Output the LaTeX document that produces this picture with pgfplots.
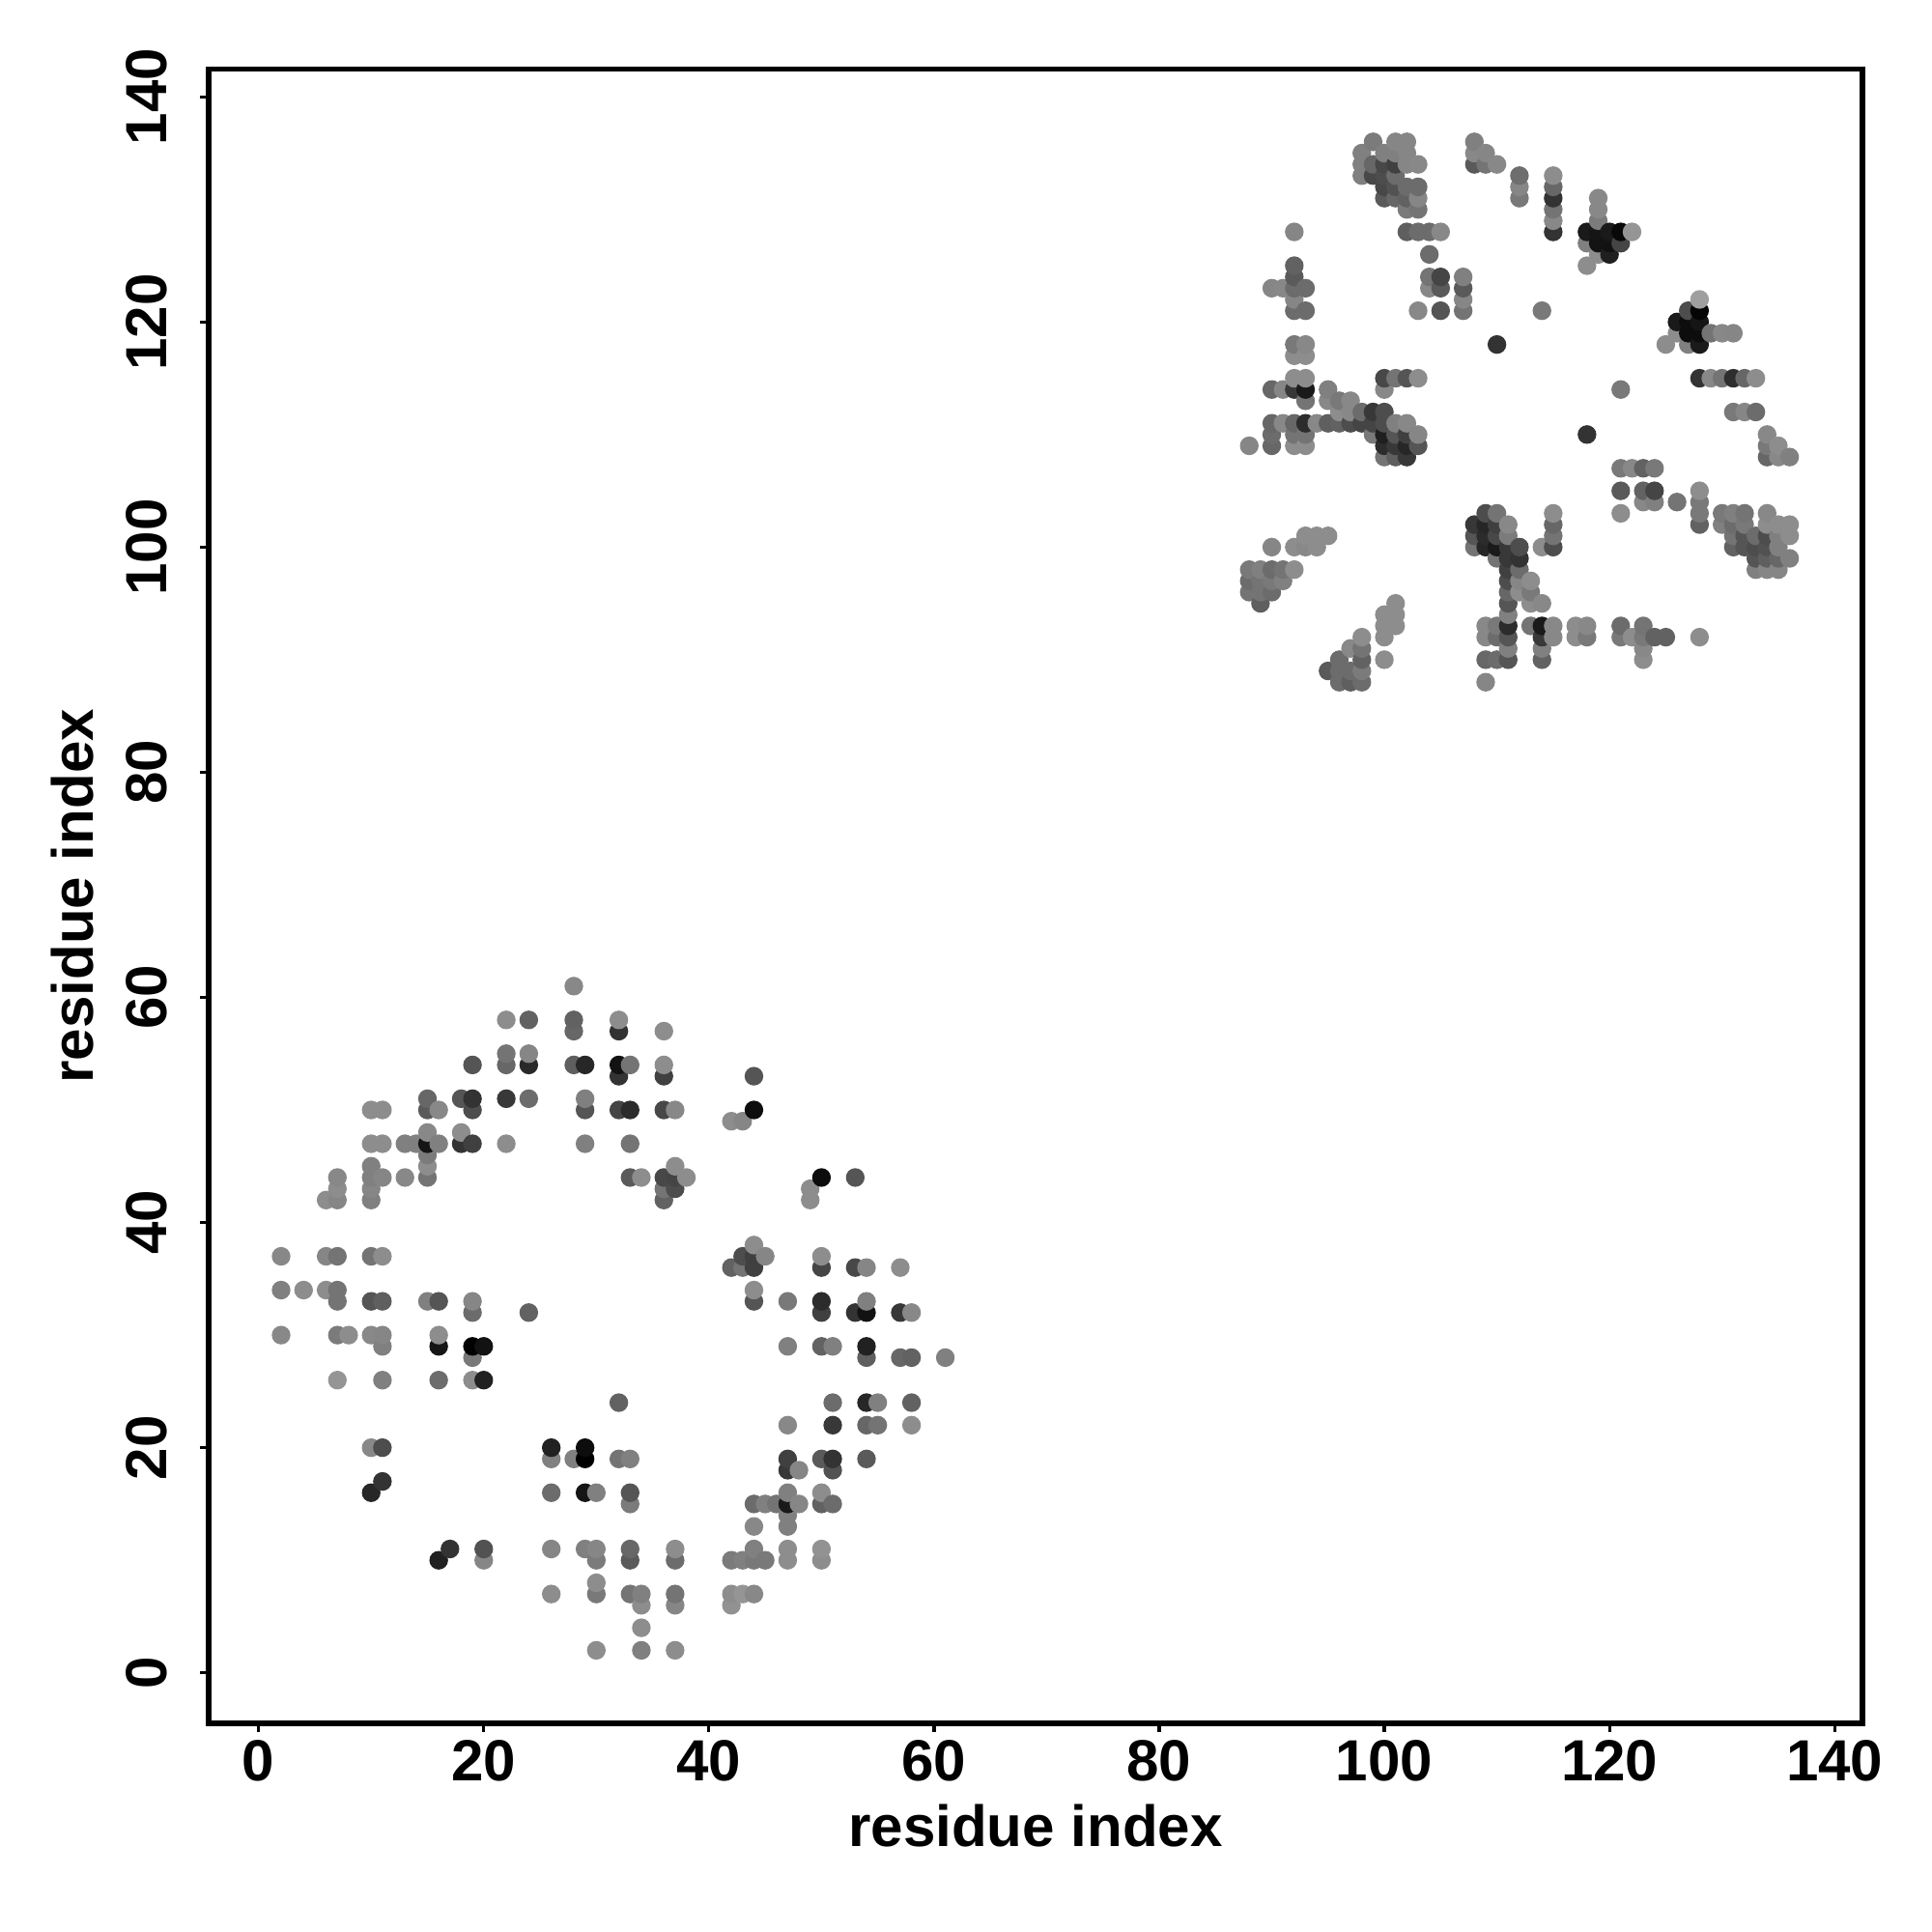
\documentclass[border=0pt]{standalone}
\usepackage{pgfplots}
\usepackage{pgfplotstable}
\usepackage{fontspec}
\setmainfont{Liberation Sans}
\pgfplotsset{compat=1.18}
\pgfplotstableread[row sep=\\,header=false]{
2 30 .53\\ 2 34 .5\\ 2 37 .53\\
4 34 .55\\
6 34 .55\\ 6 37 .52\\ 6 42 .55\\
7 26 .58\\ 7 30 .48\\ 7 33 .45\\ 7 34 .45\\ 7 37 .45\\ 7 42 .52\\ 7 43 .55\\ 7 44 .53\\
8 30 .55\\
10 16 .15\\ 10 20 .53\\ 10 30 .53\\ 10 33 .33\\ 10 37 .45\\ 10 42 .5\\ 10 43 .52\\ 10 44 .5\\ 10 45 .5\\ 10 47 .55\\ 10 50 .55\\
11 17 .2\\ 11 20 .3\\ 11 26 .5\\ 11 29 .5\\ 11 30 .52\\ 11 33 .37\\ 11 37 .55\\ 11 44 .52\\ 11 47 .55\\ 11 50 .55\\
13 44 .53\\ 13 47 .5\\
14 47 .5\\
15 33 .5\\ 15 44 .45\\ 15 45 .55\\ 15 46 .48\\ 15 47 .08\\ 15 48 .53\\ 15 50 .35\\ 15 51 .4\\
16 10 .13\\ 16 26 .42\\ 16 29 .08\\ 16 30 .55\\ 16 33 .33\\ 16 47 .5\\ 16 50 .53\\
17 11 .2\\
18 47 .2\\ 18 48 .55\\ 18 51 .33\\
19 26 .55\\ 19 28 .47\\ 19 29 0\\ 19 32 .42\\ 19 33 .52\\ 19 47 .25\\ 19 50 .3\\ 19 51 .2\\ 19 54 .33\\
20 10 .52\\ 20 11 .32\\ 20 26 .13\\ 20 29 .07\\
22 47 .55\\ 22 51 .22\\ 22 54 .4\\ 22 55 .45\\ 22 58 .55\\
24 32 .38\\ 24 51 .42\\ 24 54 .16\\ 24 55 .52\\ 24 58 .38\\
26 7 .55\\ 26 11 .52\\ 26 16 .42\\ 26 19 .5\\ 26 20 .13\\
28 19 .5\\ 28 54 .37\\ 28 57 .4\\ 28 58 .38\\ 28 61 .53\\
29 11 .5\\ 29 16 .08\\ 29 19 0\\ 29 20 .05\\ 29 47 .5\\ 29 50 .33\\ 29 51 .5\\ 29 54 .15\\
30 2 .55\\ 30 7 .47\\ 30 8 .55\\ 30 10 .48\\ 30 11 .52\\ 30 16 .5\\
32 19 .45\\ 32 24 .38\\ 32 50 .27\\ 32 53 .2\\ 32 54 .07\\ 32 57 .2\\ 32 58 .55\\
33 7 .45\\ 33 10 .35\\ 33 11 .4\\ 33 15 .48\\ 33 16 .33\\ 33 19 .5\\ 33 44 .35\\ 33 47 .45\\ 33 50 .17\\ 33 54 .45\\
34 2 .5\\ 34 4 .55\\ 34 6 .55\\ 34 7 .5\\ 34 44 .55\\
36 42 .38\\ 36 43 .45\\ 36 44 .28\\ 36 50 .28\\ 36 53 .25\\ 36 54 .55\\ 36 57 .55\\
37 2 .55\\ 37 6 .52\\ 37 7 .45\\ 37 10 .42\\ 37 11 .55\\ 37 43 .3\\ 37 44 .27\\ 37 45 .55\\ 37 50 .53\\
38 44 .55\\
42 6 .57\\ 42 7 .55\\ 42 10 .48\\ 42 36 .38\\ 42 49 .55\\
43 7 .58\\ 43 10 .5\\ 43 36 .45\\ 43 37 .3\\ 43 49 .52\\
44 7 .53\\ 44 10 .47\\ 44 11 .5\\ 44 13 .53\\ 44 15 .42\\ 44 33 .33\\ 44 34 .55\\ 44 36 .25\\ 44 37 .25\\ 44 38 .55\\ 44 50 .05\\ 44 53 .33\\
45 10 .47\\ 45 15 .5\\ 45 37 .52\\
46 15 .45\\
47 10 .55\\ 47 11 .55\\ 47 13 .5\\ 47 14 .5\\ 47 15 .1\\ 47 16 .5\\ 47 18 .22\\ 47 19 .25\\ 47 22 .53\\ 47 29 .5\\ 47 33 .47\\
48 15 .52\\ 48 18 .52\\
49 42 .55\\ 49 43 .55\\
50 10 .55\\ 50 11 .57\\ 50 15 .38\\ 50 16 .55\\ 50 19 .35\\ 50 29 .38\\ 50 32 .25\\ 50 33 .17\\ 50 36 .27\\ 50 37 .55\\ 50 44 .05\\
51 15 .42\\ 51 18 .32\\ 51 19 .2\\ 51 22 .22\\ 51 24 .42\\ 51 29 .5\\
53 32 .2\\ 53 36 .28\\ 53 44 .33\\
54 19 .35\\ 54 22 .4\\ 54 24 .15\\ 54 28 .37\\ 54 29 .13\\ 54 32 .07\\ 54 33 .5\\ 54 36 .52\\
55 22 .45\\ 55 24 .5\\
57 28 .4\\ 57 32 .22\\ 57 36 .55\\
58 22 .55\\ 58 24 .38\\ 58 28 .38\\ 58 32 .53\\
61 28 .5\\
}\lowertable
\pgfplotstableread[row sep=\\,header=false]{
88 96 .45\\ 88 97 .42\\ 88 98 .47\\ 88 109 .52\\
89 95 .37\\ 89 96 .45\\ 89 97 .45\\ 89 98 .5\\
90 96 .42\\ 90 97 .47\\ 90 98 .42\\ 90 100 .52\\ 90 109 .4\\ 90 110 .42\\ 90 111 .4\\ 90 114 .4\\ 90 123 .52\\
91 97 .5\\ 91 98 .45\\ 91 111 .53\\ 91 114 .52\\ 91 123 .53\\
92 98 .55\\ 92 100 .55\\ 92 109 .55\\ 92 110 .45\\ 92 111 .4\\ 92 114 .22\\ 92 115 .55\\ 92 117 .55\\ 92 118 .47\\ 92 121 .42\\ 92 122 .52\\ 92 123 .42\\ 92 124 .35\\ 92 125 .38\\ 92 128 .52\\
93 100 .53\\ 93 101 .55\\ 93 109 .55\\ 93 110 .45\\ 93 111 .17\\ 93 113 .45\\ 93 114 .1\\ 93 115 .55\\ 93 117 .55\\ 93 118 .53\\ 93 121 .42\\ 93 123 .42\\
94 100 .55\\ 94 101 .55\\ 94 111 .53\\
95 89 .35\\ 95 101 .55\\ 95 111 .37\\ 95 113 .53\\ 95 114 .5\\
96 88 .42\\ 96 89 .42\\ 96 90 .42\\ 96 111 .38\\ 96 112 .55\\ 96 113 .47\\
97 88 .37\\ 97 89 .42\\ 97 91 .53\\ 97 111 .3\\ 97 112 .53\\ 97 113 .53\\
98 88 .42\\ 98 89 .48\\ 98 90 .38\\ 98 91 .45\\ 98 92 .55\\ 98 111 .27\\ 98 112 .42\\ 98 133 .5\\ 98 134 .5\\ 98 135 .5\\
99 110 .47\\ 99 111 .27\\ 99 112 .22\\ 99 133 .28\\ 99 134 .4\\ 99 136 .48\\
100 90 .55\\ 100 92 .55\\ 100 93 .55\\ 100 94 .55\\ 100 108 .45\\ 100 109 .17\\ 100 110 .12\\ 100 111 .3\\ 100 112 .3\\ 100 114 .53\\ 100 115 .28\\ 100 131 .35\\ 100 132 .28\\ 100 133 .3\\ 100 134 .28\\ 100 135 .5\\
101 93 .55\\ 101 94 .55\\ 101 95 .55\\ 101 108 .37\\ 101 109 .22\\ 101 110 .33\\ 101 111 .5\\ 101 115 .45\\ 101 131 .4\\ 101 132 .32\\ 101 133 .42\\ 101 134 .25\\ 101 135 .5\\ 101 136 .52\\
102 108 .22\\ 102 109 .15\\ 102 110 .25\\ 102 111 .53\\ 102 115 .33\\ 102 128 .37\\ 102 130 .48\\ 102 131 .38\\ 102 132 .42\\ 102 134 .52\\ 102 135 .52\\ 102 136 .52\\
103 109 .33\\ 103 110 .52\\ 103 115 .55\\ 103 121 .53\\ 103 128 .42\\ 103 130 .45\\ 103 131 .52\\ 103 132 .42\\ 103 134 .53\\
104 123 .53\\ 104 124 .45\\ 104 126 .42\\ 104 128 .42\\
105 121 .33\\ 105 123 .35\\ 105 124 .27\\ 105 128 .53\\
107 121 .45\\ 107 122 .52\\ 107 123 .35\\ 107 124 .5\\
108 100 .45\\ 108 101 .33\\ 108 102 .22\\ 108 134 .35\\ 108 135 .53\\ 108 136 .5\\
109 88 .52\\ 109 90 .4\\ 109 92 .53\\ 109 93 .53\\ 109 100 .15\\ 109 101 .17\\ 109 102 .15\\ 109 103 .3\\ 109 134 .45\\ 109 135 .52\\
110 90 .42\\ 110 92 .42\\ 110 93 .47\\ 110 99 .45\\ 110 100 .1\\ 110 101 .28\\ 110 102 .25\\ 110 103 .45\\ 110 118 .2\\ 110 134 .53\\
111 90 .33\\ 111 91 .5\\ 111 92 .33\\ 111 93 .17\\ 111 94 .5\\ 111 95 .33\\ 111 96 .4\\ 111 97 .3\\ 111 98 .25\\ 111 99 .22\\ 111 100 .22\\ 111 101 .48\\ 111 102 .53\\
112 96 .55\\ 112 97 .52\\ 112 98 .42\\ 112 99 .2\\ 112 100 .3\\ 112 131 .47\\ 112 132 .52\\ 112 133 .43\\
113 93 .45\\ 113 95 .55\\ 113 96 .47\\ 113 97 .55\\
114 90 .38\\ 114 91 .5\\ 114 92 .22\\ 114 93 .1\\ 114 95 .53\\ 114 100 .55\\ 114 121 .47\\
115 92 .53\\ 115 93 .53\\ 115 100 .3\\ 115 101 .45\\ 115 102 .4\\ 115 103 .55\\ 115 128 .2\\ 115 129 .53\\ 115 130 .45\\ 115 131 .2\\ 115 132 .4\\ 115 133 .55\\
117 92 .55\\ 117 93 .55\\
118 92 .47\\ 118 93 .53\\ 118 110 .2\\ 118 125 .55\\ 118 127 .5\\ 118 128 .1\\
119 126 .55\\ 119 127 .07\\ 119 128 .08\\ 119 129 .48\\ 119 130 .53\\ 119 131 .53\\
120 126 .12\\ 120 127 .07\\ 120 128 .1\\
121 92 .47\\ 121 93 .42\\ 121 103 .55\\ 121 105 .35\\ 121 107 .47\\ 121 114 .47\\ 121 127 .27\\ 121 128 .03\\
122 92 .55\\ 122 107 .53\\ 122 128 .58\\
123 90 .55\\ 123 91 .53\\ 123 92 .47\\ 123 93 .45\\ 123 104 .53\\ 123 105 .38\\ 123 107 .38\\
124 92 .38\\ 124 104 .5\\ 124 105 .27\\ 124 107 .47\\
125 92 .38\\ 125 118 .55\\
126 104 .45\\ 126 119 .55\\ 126 120 .1\\
127 118 .5\\ 127 119 .05\\ 127 120 .05\\ 127 121 .3\\
128 92 .55\\ 128 102 .38\\ 128 103 .47\\ 128 104 .47\\ 128 105 .55\\ 128 115 .2\\ 128 118 .1\\ 128 119 .05\\ 128 120 .08\\ 128 121 .02\\ 128 122 .62\\
129 115 .53\\ 129 119 .45\\
130 102 .5\\ 130 103 .47\\ 130 115 .45\\ 130 119 .53\\
131 100 .38\\ 131 101 .45\\ 131 102 .42\\ 131 103 .5\\ 131 112 .47\\ 131 115 .18\\ 131 119 .52\\
132 100 .33\\ 132 101 .33\\ 132 102 .47\\ 132 103 .45\\ 132 112 .52\\ 132 115 .4\\
133 98 .5\\ 133 99 .33\\ 133 100 .3\\ 133 101 .42\\ 133 112 .42\\ 133 115 .55\\
134 98 .52\\ 134 99 .37\\ 134 100 .32\\ 134 101 .3\\ 134 102 .55\\ 134 103 .53\\ 134 108 .4\\ 134 109 .47\\ 134 110 .53\\
135 98 .52\\ 135 99 .4\\ 135 100 .5\\ 135 101 .5\\ 135 102 .55\\ 135 108 .53\\ 135 109 .55\\
136 99 .5\\ 136 101 .55\\ 136 102 .55\\ 136 108 .5\\
}\uppertable
\begin{document}
\begin{tikzpicture}
\path[use as bounding box] (0,0) rectangle (20cm,20cm);
\begin{axis}[
  at={(2.16cm,2.16cm)}, anchor=south west,
  width=17.12cm, height=17.123cm, scale only axis,
  xmin=-4.436, xmax=142.47, ymin=-4.488, ymax=142.45,
  axis line style={line width=0.55mm},
  tick style={black, line width=0.32mm},
  tick align=outside, major tick length=0.87mm,
  xtick={0,20,...,140}, ytick={0,20,...,140},
  xtick pos=bottom, ytick pos=left,
  /pgf/number format/assume math mode=true,
  ticklabel style={font=\fontsize{17.1}{19}\selectfont\bfseries},
  xticklabel style={yshift=0.37mm},
  yticklabel style={xshift=-2.13mm, rotate=90, anchor=south},
  xlabel={residue index}, ylabel={residue index},
  label style={font=\fontsize{17.1}{19}\selectfont\bfseries},
  ylabel shift=1mm,
  colormap/blackwhite, point meta min=0, point meta max=1,
  scatter/use mapped color={draw=mapped color, fill=mapped color},
]
\addplot[scatter, only marks, mark=*, mark size=2.55pt, point meta=explicit]
  table[x index=0, y index=1, meta index=2] {\lowertable};
\addplot[scatter, only marks, mark=*, mark size=2.55pt, point meta=explicit]
  table[x index=0, y index=1, meta index=2] {\uppertable};
\end{axis}
\end{tikzpicture}
\end{document}
